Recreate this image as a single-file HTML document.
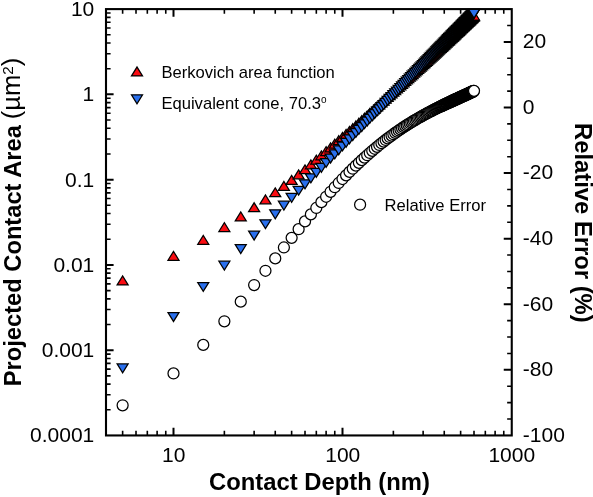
<!DOCTYPE html>
<html lang="en"><head><meta charset="utf-8"><title>Projected Contact Area vs Contact Depth</title>
<style>html,body{margin:0;padding:0;background:#fff}svg{display:block;will-change:transform}</style></head>
<body>
<svg width="593" height="497" viewBox="0 0 593 497">
<rect width="593" height="497" fill="#fff"/>
<path d="M173.5 435.45v-7.6M173.5 9.1v7.6M342.5 435.45v-7.6M342.5 9.1v7.6M106 350.18h7.6M106 264.91h7.6M106 179.64h7.6M106 94.37h7.6M511.75 369.86h-8M511.75 304.27h-8M511.75 238.67h-8M511.75 173.08h-8M511.75 107.49h-8M511.75 41.9h-8" stroke="#000" stroke-width="2.0" fill="none"/>
<path d="M122.63 435.45v-4.6M122.63 9.1v4.6M136.01 435.45v-4.6M136.01 9.1v4.6M147.32 435.45v-4.6M147.32 9.1v4.6M157.12 435.45v-4.6M157.12 9.1v4.6M165.77 435.45v-4.6M165.77 9.1v4.6M224.37 435.45v-4.6M224.37 9.1v4.6M254.13 435.45v-4.6M254.13 9.1v4.6M275.25 435.45v-4.6M275.25 9.1v4.6M291.63 435.45v-4.6M291.63 9.1v4.6M305.01 435.45v-4.6M305.01 9.1v4.6M316.32 435.45v-4.6M316.32 9.1v4.6M326.12 435.45v-4.6M326.12 9.1v4.6M334.77 435.45v-4.6M334.77 9.1v4.6M393.37 435.45v-4.6M393.37 9.1v4.6M423.13 435.45v-4.6M423.13 9.1v4.6M444.25 435.45v-4.6M444.25 9.1v4.6M460.63 435.45v-4.6M460.63 9.1v4.6M474.01 435.45v-4.6M474.01 9.1v4.6M485.32 435.45v-4.6M485.32 9.1v4.6M495.12 435.45v-4.6M495.12 9.1v4.6M503.77 435.45v-4.6M503.77 9.1v4.6M106 409.78h4.6M106 394.77h4.6M106 384.11h4.6M106 375.85h4.6M106 369.1h4.6M106 363.39h4.6M106 358.44h4.6M106 354.08h4.6M106 324.51h4.6M106 309.5h4.6M106 298.84h4.6M106 290.58h4.6M106 283.83h4.6M106 278.12h4.6M106 273.17h4.6M106 268.81h4.6M106 239.24h4.6M106 224.23h4.6M106 213.57h4.6M106 205.31h4.6M106 198.56h4.6M106 192.85h4.6M106 187.9h4.6M106 183.54h4.6M106 153.97h4.6M106 138.96h4.6M106 128.3h4.6M106 120.04h4.6M106 113.29h4.6M106 107.58h4.6M106 102.63h4.6M106 98.27h4.6M106 68.7h4.6M106 53.69h4.6M106 43.03h4.6M106 34.77h4.6M106 28.02h4.6M106 22.31h4.6M106 17.36h4.6M106 13h4.6M511.75 419.05h-4.6M511.75 402.65h-4.6M511.75 386.26h-4.6M511.75 353.46h-4.6M511.75 337.06h-4.6M511.75 320.66h-4.6M511.75 287.87h-4.6M511.75 271.47h-4.6M511.75 255.07h-4.6M511.75 222.27h-4.6M511.75 205.88h-4.6M511.75 189.48h-4.6M511.75 156.68h-4.6M511.75 140.28h-4.6M511.75 123.89h-4.6M511.75 91.09h-4.6M511.75 74.69h-4.6M511.75 58.29h-4.6M511.75 25.5h-4.6" stroke="#000" stroke-width="1.6" fill="none"/>
<rect x="106.0" y="9.1" width="405.75" height="426.35" fill="none" stroke="#000" stroke-width="2.1"/>
<g fill="#fa0c12" stroke="#000" stroke-width="1.25" stroke-linejoin="miter"><path d="M117.13 284.89L128.13 284.89L122.63 275.99Z"/><path d="M168 260.26L179 260.26L173.5 251.36Z"/><path d="M197.76 244.25L208.76 244.25L203.26 235.35Z"/><path d="M218.87 231.52L229.87 231.52L224.37 222.62Z"/><path d="M235.25 220.88L246.25 220.88L240.75 211.98Z"/><path d="M248.63 211.71L259.63 211.71L254.13 202.81Z"/><path d="M259.95 203.8L270.95 203.8L265.45 194.9Z"/><path d="M269.75 196.73L280.75 196.73L275.25 187.83Z"/><path d="M278.39 190.33L289.39 190.33L283.89 181.43Z"/><path d="M286.13 184.35L297.13 184.35L291.63 175.45Z"/><path d="M293.12 178.84L304.12 178.84L298.62 169.94Z"/><path d="M299.51 173.74L310.51 173.74L305.01 164.84Z"/><path d="M305.38 168.78L316.38 168.78L310.88 159.88Z"/><path d="M310.82 164.14L321.82 164.14L316.32 155.24Z"/><path d="M315.89 159.78L326.89 159.78L321.39 150.88Z"/><path d="M320.62 155.67L331.62 155.67L326.12 146.77Z"/><path d="M325.07 151.83L336.07 151.83L330.57 142.93Z"/><path d="M329.27 148.18L340.27 148.18L334.77 139.28Z"/><path d="M333.24 144.71L344.24 144.71L338.74 135.81Z"/><path d="M337 141.39L348 141.39L342.5 132.49Z"/><path d="M340.58 138.31L351.58 138.31L346.08 129.41Z"/><path d="M344 135.35L355 135.35L349.5 126.45Z"/><path d="M347.26 132.5L358.26 132.5L352.76 123.6Z"/><path d="M350.38 129.77L361.38 129.77L355.88 120.87Z"/><path d="M353.38 127.13L364.38 127.13L358.88 118.23Z"/><path d="M356.26 124.59L367.26 124.59L361.76 115.69Z"/><path d="M359.03 122.14L370.03 122.14L364.53 113.24Z"/><path d="M361.7 119.76L372.7 119.76L367.2 110.86Z"/><path d="M364.27 117.46L375.27 117.46L369.77 108.56Z"/><path d="M366.76 115.23L377.76 115.23L372.26 106.33Z"/><path d="M369.17 113.06L380.17 113.06L374.67 104.16Z"/><path d="M371.5 110.96L382.5 110.96L377 102.06Z"/><path d="M373.75 108.94L384.75 108.94L379.25 100.04Z"/><path d="M375.95 106.98L386.95 106.98L381.45 98.08Z"/><path d="M378.07 105.07L389.07 105.07L383.57 96.17Z"/><path d="M380.14 103.21L391.14 103.21L385.64 94.31Z"/><path d="M382.15 101.39L393.15 101.39L387.65 92.49Z"/><path d="M384.11 99.62L395.11 99.62L389.61 90.72Z"/><path d="M386.02 97.89L397.02 97.89L391.52 88.99Z"/><path d="M387.87 96.21L398.87 96.21L393.37 87.31Z"/><path d="M389.69 94.56L400.69 94.56L395.19 85.66Z"/><path d="M391.46 92.94L402.46 92.94L396.96 84.04Z"/><path d="M393.18 91.36L404.18 91.36L398.68 82.46Z"/><path d="M394.87 89.82L405.87 89.82L400.37 80.92Z"/><path d="M396.52 88.31L407.52 88.31L402.02 79.41Z"/><path d="M398.13 86.83L409.13 86.83L403.63 77.93Z"/><path d="M399.71 85.37L410.71 85.37L405.21 76.47Z"/><path d="M401.26 83.95L412.26 83.95L406.76 75.05Z"/><path d="M402.77 82.55L413.77 82.55L408.27 73.65Z"/><path d="M404.25 81.18L415.25 81.18L409.75 72.28Z"/><path d="M405.71 79.84L416.71 79.84L411.21 70.94Z" stroke-width="1.26"/><path d="M407.13 78.52L418.13 78.52L412.63 69.62Z" stroke-width="1.28"/><path d="M408.53 77.21L419.53 77.21L414.03 68.31Z" stroke-width="1.29"/><path d="M409.9 75.92L420.9 75.92L415.4 67.02Z" stroke-width="1.3"/><path d="M411.25 74.65L422.25 74.65L416.75 65.75Z" stroke-width="1.32"/><path d="M412.57 73.41L423.57 73.41L418.07 64.51Z" stroke-width="1.33"/><path d="M413.87 72.18L424.87 72.18L419.37 63.28Z" stroke-width="1.35"/><path d="M415.15 70.98L426.15 70.98L420.65 62.08Z" stroke-width="1.36"/><path d="M416.4 69.8L427.4 69.8L421.9 60.9Z" stroke-width="1.37"/><path d="M417.63 68.63L428.63 68.63L423.13 59.73Z" stroke-width="1.39"/><path d="M418.85 67.48L429.85 67.48L424.35 58.58Z" stroke-width="1.4"/><path d="M420.04 66.35L431.04 66.35L425.54 57.45Z" stroke-width="1.42"/><path d="M421.21 65.24L432.21 65.24L426.71 56.34Z" stroke-width="1.43"/><path d="M422.37 64.15L433.37 64.15L427.87 55.25Z" stroke-width="1.44"/><path d="M423.51 63.07L434.51 63.07L429.01 54.17Z" stroke-width="1.46"/><path d="M424.63 62L435.63 62L430.13 53.1Z" stroke-width="1.47"/><path d="M425.73 60.95L436.73 60.95L431.23 52.05Z" stroke-width="1.48"/><path d="M426.82 59.92L437.82 59.92L432.32 51.02Z" stroke-width="1.5"/><path d="M427.89 58.9L438.89 58.9L433.39 50Z" stroke-width="1.51"/><path d="M428.95 57.9L439.95 57.9L434.45 49Z" stroke-width="1.52"/><path d="M429.99 56.91L440.99 56.91L435.49 48.01Z" stroke-width="1.54"/><path d="M431.02 55.93L442.02 55.93L436.52 47.03Z" stroke-width="1.55"/><path d="M432.03 54.96L443.03 54.96L437.53 46.06Z" stroke-width="1.57"/><path d="M433.03 54.01L444.03 54.01L438.53 45.11Z" stroke-width="1.58"/><path d="M434.01 53.07L445.01 53.07L439.51 44.17Z" stroke-width="1.59"/><path d="M434.98 52.14L445.98 52.14L440.48 43.24Z" stroke-width="1.61"/><path d="M435.94 51.23L446.94 51.23L441.44 42.33Z" stroke-width="1.62"/><path d="M436.89 50.32L447.89 50.32L442.39 41.42Z" stroke-width="1.64"/><path d="M437.82 49.43L448.82 49.43L443.32 40.53Z" stroke-width="1.65"/><path d="M438.75 48.55L449.75 48.55L444.25 39.65Z" stroke-width="1.66"/><path d="M439.66 47.68L450.66 47.68L445.16 38.78Z" stroke-width="1.68"/><path d="M440.56 46.82L451.56 46.82L446.06 37.92Z" stroke-width="1.69"/><path d="M441.45 45.96L452.45 45.96L446.95 37.06Z" stroke-width="1.7"/><path d="M442.33 45.12L453.33 45.12L447.83 36.22Z" stroke-width="1.72"/><path d="M443.2 44.29L454.2 44.29L448.7 35.39Z" stroke-width="1.73"/><path d="M444.06 43.47L455.06 43.47L449.56 34.57Z" stroke-width="1.75"/><path d="M444.9 42.66L455.9 42.66L450.4 33.76Z" stroke-width="1.76"/><path d="M445.74 41.85L456.74 41.85L451.24 32.95Z" stroke-width="1.77"/><path d="M446.57 41.06L457.57 41.06L452.07 32.16Z" stroke-width="1.79"/><path d="M447.39 40.27L458.39 40.27L452.89 31.37Z" stroke-width="1.8"/><path d="M448.2 39.5L459.2 39.5L453.7 30.6Z" stroke-width="1.8"/><path d="M449.01 38.73L460.01 38.73L454.51 29.83Z" stroke-width="1.8"/><path d="M449.8 37.97L460.8 37.97L455.3 29.07Z" stroke-width="1.8"/><path d="M450.58 37.22L461.58 37.22L456.08 28.32Z" stroke-width="1.8"/><path d="M451.36 36.47L462.36 36.47L456.86 27.57Z" stroke-width="1.8"/><path d="M452.13 35.73L463.13 35.73L457.63 26.83Z" stroke-width="1.8"/><path d="M452.89 35L463.89 35L458.39 26.1Z" stroke-width="1.8"/><path d="M453.64 34.28L464.64 34.28L459.14 25.38Z" stroke-width="1.8"/><path d="M454.39 33.57L465.39 33.57L459.89 24.67Z" stroke-width="1.8"/><path d="M455.13 32.86L466.13 32.86L460.63 23.96Z" stroke-width="1.8"/><path d="M455.86 32.16L466.86 32.16L461.36 23.26Z" stroke-width="1.8"/><path d="M456.58 31.47L467.58 31.47L462.08 22.57Z" stroke-width="1.8"/><path d="M457.3 30.78L468.3 30.78L462.8 21.88Z" stroke-width="1.8"/><path d="M458 30.1L469 30.1L463.5 21.2Z" stroke-width="1.8"/><path d="M458.71 29.43L469.71 29.43L464.21 20.53Z" stroke-width="1.8"/><path d="M459.4 28.76L470.4 28.76L464.9 19.86Z" stroke-width="1.8"/><path d="M460.09 28.1L471.09 28.1L465.59 19.2Z" stroke-width="1.8"/><path d="M460.77 27.44L471.77 27.44L466.27 18.54Z" stroke-width="1.8"/><path d="M461.45 26.79L472.45 26.79L466.95 17.89Z" stroke-width="1.8"/><path d="M462.12 26.15L473.12 26.15L467.62 17.25Z" stroke-width="1.8"/><path d="M462.79 25.51L473.79 25.51L468.29 16.61Z" stroke-width="1.8"/><path d="M463.44 24.88L474.44 24.88L468.94 15.98Z" stroke-width="1.8"/><path d="M464.1 24.26L475.1 24.26L469.6 15.36Z" stroke-width="1.8"/><path d="M464.74 23.64L475.74 23.64L470.24 14.74Z" stroke-width="1.8"/><path d="M465.38 23.02L476.38 23.02L470.88 14.12Z" stroke-width="1.8"/><path d="M466.02 22.41L477.02 22.41L471.52 13.51Z" stroke-width="1.8"/><path d="M466.65 21.81L477.65 21.81L472.15 12.91Z" stroke-width="1.8"/><path d="M467.27 21.21L478.27 21.21L472.77 12.31Z" stroke-width="1.8"/><path d="M467.89 20.62L478.89 20.62L473.39 11.72Z" stroke-width="1.8"/><path d="M468.51 20.03L479.51 20.03L474.01 11.13Z"/></g>
<g fill="#2a70ee" stroke="#000" stroke-width="1.25" stroke-linejoin="miter"><path d="M117.13 363.88L128.13 363.88L122.63 372.78Z"/><path d="M168 312.55L179 312.55L173.5 321.45Z"/><path d="M197.76 282.52L208.76 282.52L203.26 291.42Z"/><path d="M218.87 261.21L229.87 261.21L224.37 270.11Z"/><path d="M235.25 244.68L246.25 244.68L240.75 253.58Z"/><path d="M248.63 231.18L259.63 231.18L254.13 240.08Z"/><path d="M259.95 219.76L270.95 219.76L265.45 228.66Z"/><path d="M269.75 209.87L280.75 209.87L275.25 218.77Z"/><path d="M278.39 201.15L289.39 201.15L283.89 210.05Z"/><path d="M286.13 193.34L297.13 193.34L291.63 202.24Z"/><path d="M293.12 186.28L304.12 186.28L298.62 195.18Z"/><path d="M299.51 179.84L310.51 179.84L305.01 188.74Z"/><path d="M305.38 173.91L316.38 173.91L310.88 182.81Z"/><path d="M310.82 168.42L321.82 168.42L316.32 177.32Z"/><path d="M315.89 163.31L326.89 163.31L321.39 172.21Z"/><path d="M320.62 158.53L331.62 158.53L326.12 167.43Z"/><path d="M325.07 154.04L336.07 154.04L330.57 162.94Z"/><path d="M329.27 149.81L340.27 149.81L334.77 158.71Z"/><path d="M333.24 145.8L344.24 145.8L338.74 154.7Z"/><path d="M337 142.01L348 142.01L342.5 150.91Z"/><path d="M340.58 138.39L351.58 138.39L346.08 147.29Z"/><path d="M344 134.95L355 134.95L349.5 143.85Z"/><path d="M347.26 131.65L358.26 131.65L352.76 140.55Z"/><path d="M350.38 128.5L361.38 128.5L355.88 137.4Z"/><path d="M353.38 125.48L364.38 125.48L358.88 134.38Z"/><path d="M356.26 122.57L367.26 122.57L361.76 131.47Z"/><path d="M359.03 119.78L370.03 119.78L364.53 128.68Z"/><path d="M361.7 117.09L372.7 117.09L367.2 125.99Z"/><path d="M364.27 114.49L375.27 114.49L369.77 123.39Z"/><path d="M366.76 111.98L377.76 111.98L372.26 120.88Z"/><path d="M369.17 109.55L380.17 109.55L374.67 118.45Z"/><path d="M371.5 107.2L382.5 107.2L377 116.1Z"/><path d="M373.75 104.92L384.75 104.92L379.25 113.82Z"/><path d="M375.95 102.71L386.95 102.71L381.45 111.61Z"/><path d="M378.07 100.56L389.07 100.56L383.57 109.46Z"/><path d="M380.14 98.47L391.14 98.47L385.64 107.37Z"/><path d="M382.15 96.44L393.15 96.44L387.65 105.34Z"/><path d="M384.11 94.47L395.11 94.47L389.61 103.37Z"/><path d="M386.02 92.54L397.02 92.54L391.52 101.44Z"/><path d="M387.87 90.67L398.87 90.67L393.37 99.57Z"/><path d="M389.69 88.84L400.69 88.84L395.19 97.74Z"/><path d="M391.46 87.05L402.46 87.05L396.96 95.95Z"/><path d="M393.18 85.31L404.18 85.31L398.68 94.21Z"/><path d="M394.87 83.61L405.87 83.61L400.37 92.51Z"/><path d="M396.52 81.94L407.52 81.94L402.02 90.84Z"/><path d="M398.13 80.32L409.13 80.32L403.63 89.22Z"/><path d="M399.71 78.72L410.71 78.72L405.21 87.62Z"/><path d="M401.26 77.16L412.26 77.16L406.76 86.06Z"/><path d="M402.77 75.64L413.77 75.64L408.27 84.54Z"/><path d="M404.25 74.14L415.25 74.14L409.75 83.04Z"/><path d="M405.71 72.67L416.71 72.67L411.21 81.57Z" stroke-width="1.26"/><path d="M407.13 71.24L418.13 71.24L412.63 80.14Z" stroke-width="1.28"/><path d="M408.53 69.83L419.53 69.83L414.03 78.73Z" stroke-width="1.29"/><path d="M409.9 68.44L420.9 68.44L415.4 77.34Z" stroke-width="1.3"/><path d="M411.25 67.08L422.25 67.08L416.75 75.98Z" stroke-width="1.32"/><path d="M412.57 65.75L423.57 65.75L418.07 74.65Z" stroke-width="1.33"/><path d="M413.87 64.44L424.87 64.44L419.37 73.34Z" stroke-width="1.35"/><path d="M415.15 63.15L426.15 63.15L420.65 72.05Z" stroke-width="1.36"/><path d="M416.4 61.88L427.4 61.88L421.9 70.78Z" stroke-width="1.37"/><path d="M417.63 60.64L428.63 60.64L423.13 69.54Z" stroke-width="1.39"/><path d="M418.85 59.41L429.85 59.41L424.35 68.31Z" stroke-width="1.4"/><path d="M420.04 58.21L431.04 58.21L425.54 67.11Z" stroke-width="1.42"/><path d="M421.21 57.02L432.21 57.02L426.71 65.92Z" stroke-width="1.43"/><path d="M422.37 55.86L433.37 55.86L427.87 64.76Z" stroke-width="1.44"/><path d="M423.51 54.71L434.51 54.71L429.01 63.61Z" stroke-width="1.46"/><path d="M424.63 53.58L435.63 53.58L430.13 62.48Z" stroke-width="1.47"/><path d="M425.73 52.46L436.73 52.46L431.23 61.36Z" stroke-width="1.48"/><path d="M426.82 51.37L437.82 51.37L432.32 60.27Z" stroke-width="1.5"/><path d="M427.89 50.29L438.89 50.29L433.39 59.19Z" stroke-width="1.51"/><path d="M428.95 49.22L439.95 49.22L434.45 58.12Z" stroke-width="1.52"/><path d="M429.99 48.17L440.99 48.17L435.49 57.07Z" stroke-width="1.54"/><path d="M431.02 47.13L442.02 47.13L436.52 56.03Z" stroke-width="1.55"/><path d="M432.03 46.11L443.03 46.11L437.53 55.01Z" stroke-width="1.57"/><path d="M433.03 45.1L444.03 45.1L438.53 54Z" stroke-width="1.58"/><path d="M434.01 44.11L445.01 44.11L439.51 53.01Z" stroke-width="1.59"/><path d="M434.98 43.13L445.98 43.13L440.48 52.03Z" stroke-width="1.61"/><path d="M435.94 42.16L446.94 42.16L441.44 51.06Z" stroke-width="1.62"/><path d="M436.89 41.21L447.89 41.21L442.39 50.11Z" stroke-width="1.64"/><path d="M437.82 40.26L448.82 40.26L443.32 49.16Z" stroke-width="1.65"/><path d="M438.75 39.33L449.75 39.33L444.25 48.23Z" stroke-width="1.66"/><path d="M439.66 38.41L450.66 38.41L445.16 47.31Z" stroke-width="1.68"/><path d="M440.56 37.5L451.56 37.5L446.06 46.4Z" stroke-width="1.69"/><path d="M441.45 36.6L452.45 36.6L446.95 45.5Z" stroke-width="1.7"/><path d="M442.33 35.72L453.33 35.72L447.83 44.62Z" stroke-width="1.72"/><path d="M443.2 34.84L454.2 34.84L448.7 43.74Z" stroke-width="1.73"/><path d="M444.06 33.97L455.06 33.97L449.56 42.87Z" stroke-width="1.75"/><path d="M444.9 33.12L455.9 33.12L450.4 42.02Z" stroke-width="1.76"/><path d="M445.74 32.27L456.74 32.27L451.24 41.17Z" stroke-width="1.77"/><path d="M446.57 31.43L457.57 31.43L452.07 40.33Z" stroke-width="1.79"/><path d="M447.39 30.61L458.39 30.61L452.89 39.51Z" stroke-width="1.8"/><path d="M448.2 29.79L459.2 29.79L453.7 38.69Z" stroke-width="1.8"/><path d="M449.01 28.98L460.01 28.98L454.51 37.88Z" stroke-width="1.8"/><path d="M449.8 28.18L460.8 28.18L455.3 37.08Z" stroke-width="1.8"/><path d="M450.58 27.39L461.58 27.39L456.08 36.29Z" stroke-width="1.8"/><path d="M451.36 26.6L462.36 26.6L456.86 35.5Z" stroke-width="1.8"/><path d="M452.13 25.83L463.13 25.83L457.63 34.73Z" stroke-width="1.8"/><path d="M452.89 25.06L463.89 25.06L458.39 33.96Z" stroke-width="1.8"/><path d="M453.64 24.3L464.64 24.3L459.14 33.2Z" stroke-width="1.8"/><path d="M454.39 23.55L465.39 23.55L459.89 32.45Z" stroke-width="1.8"/><path d="M455.13 22.8L466.13 22.8L460.63 31.7Z" stroke-width="1.8"/><path d="M455.86 22.07L466.86 22.07L461.36 30.97Z" stroke-width="1.8"/><path d="M456.58 21.34L467.58 21.34L462.08 30.24Z" stroke-width="1.8"/><path d="M457.3 20.61L468.3 20.61L462.8 29.51Z" stroke-width="1.8"/><path d="M458 19.9L469 19.9L463.5 28.8Z" stroke-width="1.8"/><path d="M458.71 19.19L469.71 19.19L464.21 28.09Z" stroke-width="1.8"/><path d="M459.4 18.49L470.4 18.49L464.9 27.39Z" stroke-width="1.8"/><path d="M460.09 17.79L471.09 17.79L465.59 26.69Z" stroke-width="1.8"/><path d="M460.77 17.1L471.77 17.1L466.27 26Z" stroke-width="1.8"/><path d="M461.45 16.42L472.45 16.42L466.95 25.32Z" stroke-width="1.8"/><path d="M462.12 15.74L473.12 15.74L467.62 24.64Z" stroke-width="1.8"/><path d="M462.79 15.07L473.79 15.07L468.29 23.97Z" stroke-width="1.8"/><path d="M463.44 14.41L474.44 14.41L468.94 23.31Z" stroke-width="1.8"/><path d="M464.1 13.75L475.1 13.75L469.6 22.65Z" stroke-width="1.8"/><path d="M464.74 13.1L475.74 13.1L470.24 22Z" stroke-width="1.8"/><path d="M465.38 12.45L476.38 12.45L470.88 21.35Z" stroke-width="1.8"/><path d="M466.02 11.81L477.02 11.81L471.52 20.71Z" stroke-width="1.8"/><path d="M466.65 11.18L477.65 11.18L472.15 20.08Z" stroke-width="1.8"/><path d="M467.27 10.54L478.27 10.54L472.77 19.44Z" stroke-width="1.8"/><path d="M467.89 9.92L478.89 9.92L473.39 18.82Z" stroke-width="1.8"/><path d="M468.51 9.3L479.51 9.3L474.01 18.2Z"/></g>
<g fill="#fff" stroke="#000" stroke-width="1.25"><circle cx="122.63" cy="405.31" r="5.5"/><circle cx="173.5" cy="373.45" r="5.5"/><circle cx="203.26" cy="344.92" r="5.5"/><circle cx="224.37" cy="321.32" r="5.5"/><circle cx="240.75" cy="301.67" r="5.5"/><circle cx="254.13" cy="285.05" r="5.5"/><circle cx="265.45" cy="270.78" r="5.5"/><circle cx="275.25" cy="258.38" r="5.5"/><circle cx="283.89" cy="247.49" r="5.5"/><circle cx="291.63" cy="237.83" r="5.5"/><circle cx="298.62" cy="229.19" r="5.5"/><circle cx="305.01" cy="221.42" r="5.5"/><circle cx="310.88" cy="214.39" r="5.5"/><circle cx="316.32" cy="207.98" r="5.5"/><circle cx="321.39" cy="202.13" r="5.5"/><circle cx="326.12" cy="196.76" r="5.5"/><circle cx="330.57" cy="191.81" r="5.5"/><circle cx="334.77" cy="187.24" r="5.5"/><circle cx="338.74" cy="182.99" r="5.5"/><circle cx="342.5" cy="179.04" r="5.5"/><circle cx="346.08" cy="175.36" r="5.5"/><circle cx="349.5" cy="171.92" r="5.5"/><circle cx="352.76" cy="168.7" r="5.5"/><circle cx="355.88" cy="165.67" r="5.5"/><circle cx="358.88" cy="162.83" r="5.5"/><circle cx="361.76" cy="160.15" r="5.5"/><circle cx="364.53" cy="157.62" r="5.5"/><circle cx="367.2" cy="155.23" r="5.5"/><circle cx="369.77" cy="152.96" r="5.5"/><circle cx="372.26" cy="150.81" r="5.5"/><circle cx="374.67" cy="148.77" r="5.5"/><circle cx="377" cy="146.84" r="5.5"/><circle cx="379.25" cy="144.99" r="5.5"/><circle cx="381.45" cy="143.23" r="5.5"/><circle cx="383.57" cy="141.56" r="5.5"/><circle cx="385.64" cy="139.95" r="5.5"/><circle cx="387.65" cy="138.42" r="5.5"/><circle cx="389.61" cy="136.96" r="5.5"/><circle cx="391.52" cy="135.55" r="5.5"/><circle cx="393.37" cy="134.21" r="5.5"/><circle cx="395.19" cy="132.91" r="5.5"/><circle cx="396.96" cy="131.67" r="5.5"/><circle cx="398.68" cy="130.48" r="5.5"/><circle cx="400.37" cy="129.33" r="5.5"/><circle cx="402.02" cy="128.22" r="5.5"/><circle cx="403.63" cy="127.16" r="5.5"/><circle cx="405.21" cy="126.13" r="5.5"/><circle cx="406.76" cy="125.14" r="5.5"/><circle cx="408.27" cy="124.18" r="5.5"/><circle cx="409.75" cy="123.25" r="5.5"/><circle cx="411.21" cy="122.36" r="5.5"/><circle cx="412.63" cy="121.49" r="5.5"/><circle cx="414.03" cy="120.65" r="5.5"/><circle cx="415.4" cy="119.83" r="5.5"/><circle cx="416.75" cy="119.04" r="5.5"/><circle cx="418.07" cy="118.28" r="5.5"/><circle cx="419.37" cy="117.53" r="5.5"/><circle cx="420.65" cy="116.81" r="5.5"/><circle cx="421.9" cy="116.11" r="5.5"/><circle cx="423.13" cy="115.42" r="5.5"/><circle cx="424.35" cy="114.76" r="5.5"/><circle cx="425.54" cy="114.11" r="5.5"/><circle cx="426.71" cy="113.48" r="5.5"/><circle cx="427.87" cy="112.86" r="5.5"/><circle cx="429.01" cy="112.26" r="5.5" stroke-width="1.27"/><circle cx="430.13" cy="111.67" r="5.5" stroke-width="1.29"/><circle cx="431.23" cy="111.1" r="5.5" stroke-width="1.31"/><circle cx="432.32" cy="110.54" r="5.5" stroke-width="1.33"/><circle cx="433.39" cy="109.99" r="5.5" stroke-width="1.36"/><circle cx="434.45" cy="109.46" r="5.5" stroke-width="1.38"/><circle cx="435.49" cy="108.93" r="5.5" stroke-width="1.4"/><circle cx="436.52" cy="108.42" r="5.5" stroke-width="1.42"/><circle cx="437.53" cy="107.92" r="5.5" stroke-width="1.44"/><circle cx="438.53" cy="107.43" r="5.5" stroke-width="1.46"/><circle cx="439.51" cy="106.94" r="5.5" stroke-width="1.48"/><circle cx="440.48" cy="106.47" r="5.5" stroke-width="1.5"/><circle cx="441.44" cy="106.01" r="5.5" stroke-width="1.52"/><circle cx="442.39" cy="105.55" r="5.5" stroke-width="1.55"/><circle cx="443.32" cy="105.1" r="5.5" stroke-width="1.57"/><circle cx="444.25" cy="104.66" r="5.5" stroke-width="1.59"/><circle cx="445.16" cy="104.23" r="5.5" stroke-width="1.61"/><circle cx="446.06" cy="103.8" r="5.5" stroke-width="1.63"/><circle cx="446.95" cy="103.38" r="5.5" stroke-width="1.65"/><circle cx="447.83" cy="102.97" r="5.5" stroke-width="1.67"/><circle cx="448.7" cy="102.56" r="5.5" stroke-width="1.69"/><circle cx="449.56" cy="102.16" r="5.5" stroke-width="1.72"/><circle cx="450.4" cy="101.77" r="5.5" stroke-width="1.74"/><circle cx="451.24" cy="101.38" r="5.5" stroke-width="1.76"/><circle cx="452.07" cy="101" r="5.5" stroke-width="1.78"/><circle cx="452.89" cy="100.62" r="5.5" stroke-width="1.8"/><circle cx="453.7" cy="100.25" r="5.5" stroke-width="1.8"/><circle cx="454.51" cy="99.88" r="5.5" stroke-width="1.8"/><circle cx="455.3" cy="99.51" r="5.5" stroke-width="1.8"/><circle cx="456.08" cy="99.15" r="5.5" stroke-width="1.8"/><circle cx="456.86" cy="98.8" r="5.5" stroke-width="1.8"/><circle cx="457.63" cy="98.45" r="5.5" stroke-width="1.8"/><circle cx="458.39" cy="98.1" r="5.5" stroke-width="1.8"/><circle cx="459.14" cy="97.75" r="5.5" stroke-width="1.8"/><circle cx="459.89" cy="97.41" r="5.5" stroke-width="1.8"/><circle cx="460.63" cy="97.08" r="5.5" stroke-width="1.8"/><circle cx="461.36" cy="96.74" r="5.5" stroke-width="1.8"/><circle cx="462.08" cy="96.41" r="5.5" stroke-width="1.8"/><circle cx="462.8" cy="96.08" r="5.5" stroke-width="1.8"/><circle cx="463.5" cy="95.76" r="5.5" stroke-width="1.8"/><circle cx="464.21" cy="95.44" r="5.5" stroke-width="1.8"/><circle cx="464.9" cy="95.12" r="5.5" stroke-width="1.8"/><circle cx="465.59" cy="94.8" r="5.5" stroke-width="1.8"/><circle cx="466.27" cy="94.48" r="5.5" stroke-width="1.8"/><circle cx="466.95" cy="94.17" r="5.5" stroke-width="1.8"/><circle cx="467.62" cy="93.86" r="5.5" stroke-width="1.8"/><circle cx="468.29" cy="93.55" r="5.5" stroke-width="1.8"/><circle cx="468.94" cy="93.25" r="5.5" stroke-width="1.8"/><circle cx="469.6" cy="92.95" r="5.5" stroke-width="1.8"/><circle cx="470.24" cy="92.64" r="5.5" stroke-width="1.8"/><circle cx="470.88" cy="92.34" r="5.5" stroke-width="1.8"/><circle cx="471.52" cy="92.04" r="5.5" stroke-width="1.8"/><circle cx="472.15" cy="91.75" r="5.5" stroke-width="1.8"/><circle cx="472.77" cy="91.45" r="5.5" stroke-width="1.8"/><circle cx="473.39" cy="91.16" r="5.5" stroke-width="1.8"/><circle cx="474.01" cy="90.87" r="5.5"/></g>
<path d="M131.5 75.95L142.5 75.95L137 67.05Z" fill="#fa0c12" stroke="#000" stroke-width="1.25"/>
<path d="M131.5 94.85L142.5 94.85L137 103.75Z" fill="#2a70ee" stroke="#000" stroke-width="1.25"/>
<circle cx="360.1" cy="204.7" r="5.5" fill="#fff" stroke="#000" stroke-width="1.25"/>
<g font-family="'Liberation Sans', Arial, sans-serif" fill="#000">
<g font-size="21" text-anchor="end">
<text x="94.3" y="16.1">10</text>
<text x="94.3" y="101.37">1</text>
<text x="94.3" y="186.64">0.1</text>
<text x="94.3" y="271.91">0.01</text>
<text x="94.3" y="357.18">0.001</text>
<text x="94.3" y="442.45">0.0001</text>
</g>
<g font-size="21" text-anchor="middle">
<text x="173.8" y="461.6">10</text>
<text x="342.8" y="461.6">100</text>
<text x="511.8" y="461.6">1000</text>
</g>
<g font-size="21" text-anchor="start">
<text x="522.8" y="48.2">20</text>
<text x="522.8" y="113.79">0</text>
<text x="522.8" y="179.38">-20</text>
<text x="522.8" y="244.97">-40</text>
<text x="522.8" y="310.57">-60</text>
<text x="522.8" y="376.16">-80</text>
<text x="522.8" y="441.75">-100</text>
</g>
<g font-size="16.6">
<text x="161.4" y="77.8">Berkovich area function</text>
<text x="161.4" y="108.6">Equivalent cone, 70.3<tspan font-size="10" dy="-6">o</tspan></text>
<text x="384.6" y="210.5">Relative Error</text>
</g>
<text x="319.5" y="489.9" font-size="23.8" font-weight="bold" text-anchor="middle">Contact Depth (nm)</text>
<text transform="translate(20.8 386.2) rotate(-90)" font-size="23.7" font-weight="bold">Projected Contact Area <tspan font-weight="normal" font-size="25.6" dy="-0.6" dx="-0.7">(µm<tspan font-size="15.2" dy="-7.6">2</tspan><tspan dy="7.6">)</tspan></tspan></text>
<text transform="translate(574.6 123.0) rotate(90)" font-size="23.8" font-weight="bold">Relative Error (%)</text>
</g>
</svg>
</body></html>
